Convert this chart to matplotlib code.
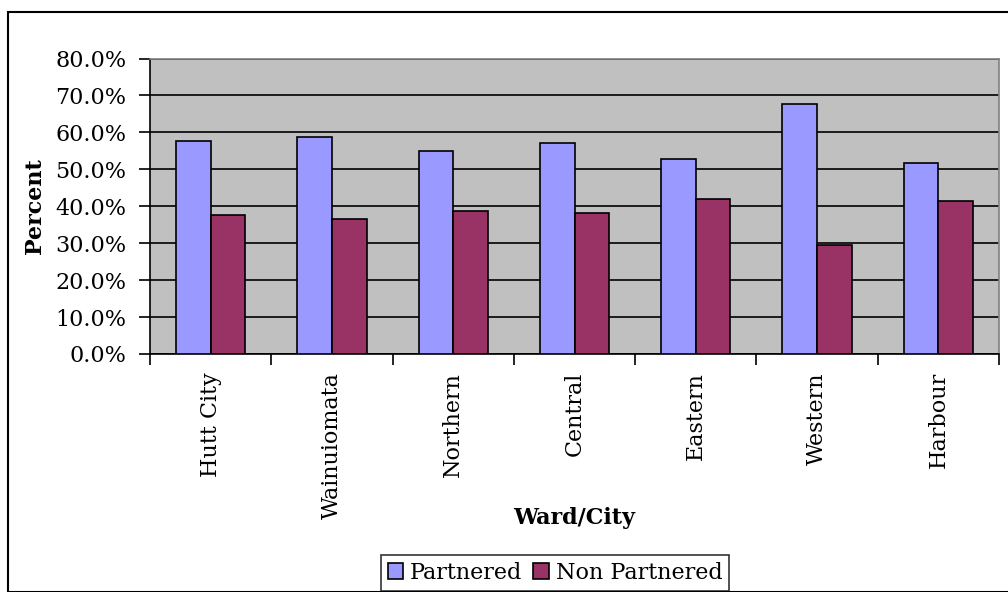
import matplotlib
matplotlib.use("Agg")
import matplotlib.pyplot as plt
import numpy as np
from matplotlib.patches import Rectangle

categories = ["Hutt City", "Wainuiomata", "Northern", "Central", "Eastern", "Western", "Harbour"]
partnered = [57.7, 58.7, 55.0, 57.1, 52.9, 67.6, 51.8]
non_partnered = [37.7, 36.5, 38.8, 38.2, 42.0, 29.5, 41.5]
yticks = [0, 10, 20, 30, 40, 50, 60, 70, 80]

plt.rcParams['font.family'] = ['DejaVu Serif']
FS = 16

W, H = 1008, 592
fig = plt.figure(figsize=(W/100, H/100), dpi=100)
fig.patches.append(Rectangle((8/W, 0), 1.2, 1 - 12/H, transform=fig.transFigure,
                             fill=False, edgecolor='black', linewidth=1.5))

ax = fig.add_axes([150/W, 1 - 354/H, 849/W, 295.5/H])
ax.set_facecolor('#C0C0C0')

n = len(categories)
x = np.arange(n)
bw = 1/3.5
ax.bar(x - bw/2, partnered, bw, color='#9999FF', edgecolor='black', linewidth=1.2, zorder=3, label='Partnered')
ax.bar(x + bw/2, non_partnered, bw, color='#993366', edgecolor='black', linewidth=1.2, zorder=3, label='Non Partnered')

ax.set_xlim(-0.5, n - 0.5)
ax.set_ylim(0, 80)
ax.set_yticks(yticks)
ax.set_yticklabels([f"{v:.1f}%" for v in yticks], fontsize=FS)
ax.yaxis.grid(True, color='black', linewidth=1.2, zorder=1)
ax.set_axisbelow(True)

ax.set_xticks(x)
ax.set_xticklabels(categories, rotation=90, fontsize=FS)
ax.tick_params(axis='x', length=0, pad=13)
ax.set_xticks(np.arange(-0.5, n, 1.0), minor=True)
ax.tick_params(axis='x', which='minor', length=8, width=1.2, direction='out')
ax.tick_params(axis='y', length=8, width=1.2, direction='out', pad=9)

for s in ['top', 'right']:
    ax.spines[s].set_color('#808080')
    ax.spines[s].set_linewidth(1.2)
for s in ['left', 'bottom']:
    ax.spines[s].set_color('black')
    ax.spines[s].set_linewidth(1.2)

fig.text(35/W, 1 - 206/H, 'Percent', fontsize=FS, fontweight='bold', rotation=90,
         ha='center', va='center')
fig.text(574/W, 1 - 518/H, 'Ward/City', fontsize=FS, fontweight='bold', ha='center', va='center')

leg = fig.legend(loc='center', bbox_to_anchor=(555/W, 1 - 573/H), ncol=2, fontsize=FS,
                 frameon=True, fancybox=False, edgecolor='black', handlelength=0.7,
                 handleheight=0.7, handletextpad=0.3, columnspacing=0.5, borderpad=0.3)
leg.get_frame().set_linewidth(1.2)

fig.savefig('out.png', dpi=100)
